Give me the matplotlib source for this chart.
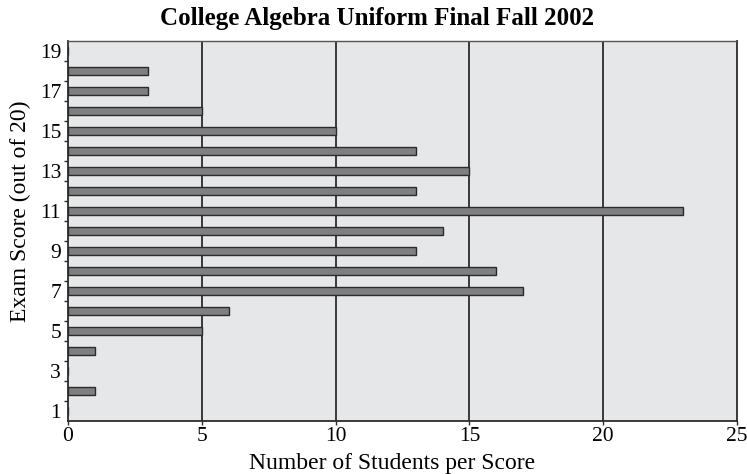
import matplotlib
matplotlib.use("Agg")
import matplotlib.pyplot as plt
import numpy as np

scores = list(range(1, 20))
counts = [0, 1, 0, 1, 5, 6, 17, 16, 13, 14, 23, 13, 15, 13, 10, 5, 3, 3, 0]
y_labels = [1, 3, 5, 7, 9, 11, 13, 15, 17, 19]
x_ticks = [0, 5, 10, 15, 20, 25]

plt.rcParams['font.family'] = ['Liberation Serif', 'DejaVu Serif']

W, H = 747, 474
fig = plt.figure(figsize=(W/100, H/100), dpi=100)
ax = fig.add_axes([68/W, 1-421/H, (737-68)/W, (421-41)/H])
ax.set_facecolor('#e6e7e8')

ax.barh(scores, counts, height=0.42, color='#7f7f81', edgecolor='#2b2b2b', linewidth=1.0, zorder=3)

ax.set_xlim(0, 25)
ax.set_ylim(0.5, 19.5)
ax.set_xticks(x_ticks)
ax.set_xticklabels([str(v) for v in x_ticks], fontsize=15.5)
for v in x_ticks[1:-1]:
    ax.axvline(v, color='#2b2b2b', linewidth=1.3, zorder=2)

ax.set_yticks(y_labels)
ax.set_yticklabels([str(v) for v in y_labels], fontsize=15.5)
ax.tick_params(axis='y', which='major', length=0, pad=5)
ax.set_yticks(np.arange(1.5, 19.5, 1), minor=True)
ax.tick_params(axis='y', which='minor', length=3, width=1, color='#2b2b2b', direction='out')
ax.tick_params(axis='x', which='major', length=3, width=1, color='#2b2b2b', direction='out', pad=1.5)

for s in ['left', 'bottom', 'right']:
    ax.spines[s].set_color('#2b2b2b')
    ax.spines[s].set_linewidth(1.3)
ax.spines['top'].set_color('#555555')
ax.spines['top'].set_linewidth(1.0)

fig.text(392/W, 1-463/H, 'Number of Students per Score', fontsize=17, ha='center', va='center')
fig.text(20/W, 1-211/H, 'Exam Score (out of 20)', fontsize=17, rotation=90, ha='center', va='center')
fig.text(377/W, 1-18/H, 'College Algebra Uniform Final Fall 2002', fontsize=18, fontweight='bold', ha='center', va='center')

fig.savefig('out.png', dpi=100)
